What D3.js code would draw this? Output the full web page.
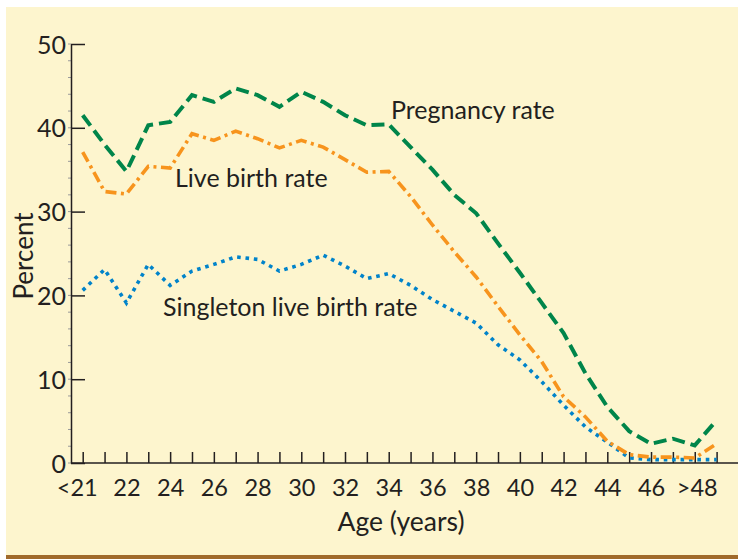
<!DOCTYPE html>
<html><head><meta charset="utf-8">
<script src="https://cdn.jsdelivr.net/npm/d3@7"></script>
<style>html,body{margin:0;padding:0;background:#fff;} svg{display:block;}</style>
</head><body><svg id="c" width="738" height="559"></svg>
<script>
const ages = [20,21,22,23,24,25,26,27,28,29,30,31,32,33,34,35,36,37,38,39,40,41,42,43,44,45,46,47,48,49];
const pregnancyRate = [41.5,38.0,34.8,40.3,40.7,43.9,43.1,44.7,43.9,42.5,44.3,43.1,41.5,40.3,40.4,37.7,35.0,32.0,29.8,26.2,22.7,19.1,15.5,10.7,6.7,3.8,2.3,2.9,2.1,5.1];
const liveBirthRate = [37.1,32.4,32.1,35.4,35.2,39.3,38.5,39.6,38.7,37.6,38.5,37.7,36.2,34.7,34.8,31.8,28.4,25.2,22.2,18.7,15.3,12.1,7.9,5.5,2.6,1.0,0.7,0.7,0.6,2.3];
const singletonRate = [20.6,23.1,19.1,23.7,21.2,22.9,23.7,24.6,24.3,22.9,23.7,24.8,23.5,22.0,22.6,21.2,19.5,18.1,16.7,14.1,12.3,9.7,6.9,4.3,2.5,0.6,0.4,0.4,0.4,0.4];
const xTickAges = [20,22,24,26,28,30,32,34,36,38,40,42,44,46,48];
const xTickLabels = ["<21","22","24","26","28","30","32","34","36","38","40","42","44","46",">48"];
const yTickValues = [0,10,20,30,40,50];
const seriesNames = ["Pregnancy rate","Live birth rate","Singleton live birth rate"];

const FONT = "Lato, 'Open Sans', sans-serif";
const INK = "#231F20";
const svg = d3.select("#c");
svg.append("rect").attr("x",6).attr("y",7).attr("width",732).attr("height",548).attr("fill","#FDF5CE");
svg.append("rect").attr("x",6).attr("y",555).attr("width",732).attr("height",4).attr("fill","#A06A2B");

const x = d3.scaleLinear().domain([20,49]).range([82.7,716.6]);
const y = d3.scaleLinear().domain([0,50]).range([463,44]);

svg.append("g").selectAll("line").data(d3.range(0,51,2)).join("line")
  .attr("x1",68).attr("x2",71).attr("y1",d=>y(d)).attr("y2",d=>y(d))
  .attr("stroke","#9a9a9a").attr("stroke-width",1);

const yAxis = svg.append("g").attr("transform","translate(71,0)")
  .call(d3.axisLeft(y).tickValues(yTickValues).tickSizeInner(-14).tickSizeOuter(0).tickPadding(5).tickFormat(d3.format("d")));
yAxis.select(".domain").attr("stroke",INK).attr("stroke-width",1.5);
yAxis.selectAll(".tick line").attr("stroke",INK).attr("stroke-width",1.5);
yAxis.selectAll(".tick text").attr("font-family",FONT).attr("font-size",25).attr("fill",INK).attr("dy","0.36em");

const labelMap = new Map(xTickAges.map((a,i)=>[a,xTickLabels[i]]));
const xAxis = svg.append("g").attr("transform","translate(0,463)")
  .call(d3.axisBottom(x).tickValues(d3.range(20,51)).tickSizeInner(-11).tickSizeOuter(0).tickFormat(d=>labelMap.get(d)||""));
xAxis.select(".domain").remove();
svg.append("line").attr("x1",71).attr("x2",738).attr("y1",463).attr("y2",463).attr("stroke",INK).attr("stroke-width",1.5);
xAxis.selectAll(".tick line").attr("stroke",INK).attr("stroke-width",1.5);
xAxis.selectAll(".tick text").attr("font-family",FONT).attr("font-size",23.5).attr("fill",INK)
  .attr("y",33).attr("dy",null)
  .attr("dx",d=>d===20?-6:(d===48?2:0));

const line = d3.line().x((d,i)=>x(ages[i])).y(d=>y(d));
svg.append("path").datum(singletonRate).attr("d",line).attr("fill","none")
  .attr("stroke","#0083CA").attr("stroke-width",3.6).attr("stroke-dasharray","3.6,4.8");
svg.append("path").datum(liveBirthRate).attr("d",line).attr("fill","none")
  .attr("stroke","#F7941D").attr("stroke-width",3.6).attr("stroke-dasharray","11,4.5,3,4.5");
svg.append("path").datum(pregnancyRate).attr("d",line).attr("fill","none")
  .attr("stroke","#00854A").attr("stroke-width",4).attr("stroke-dasharray","13,6");

const ann = [
  {t:seriesNames[0], x:391, y:119},
  {t:seriesNames[1], x:175, y:187},
  {t:seriesNames[2], x:163, y:316}
];
ann.forEach(a=>{
  svg.append("text").attr("x",a.x).attr("y",a.y).attr("font-family",FONT).attr("font-size",25).attr("fill",INK).text(a.t);
});
svg.append("text").attr("transform","translate(33,256) rotate(-90)").attr("text-anchor","middle")
  .attr("font-family",FONT).attr("font-size",26).attr("fill",INK).text("Percent");
svg.append("text").attr("x",401).attr("y",531).attr("text-anchor","middle")
  .attr("font-family",FONT).attr("font-size",26.5).attr("fill",INK).text("Age (years)");
</script></body></html>
